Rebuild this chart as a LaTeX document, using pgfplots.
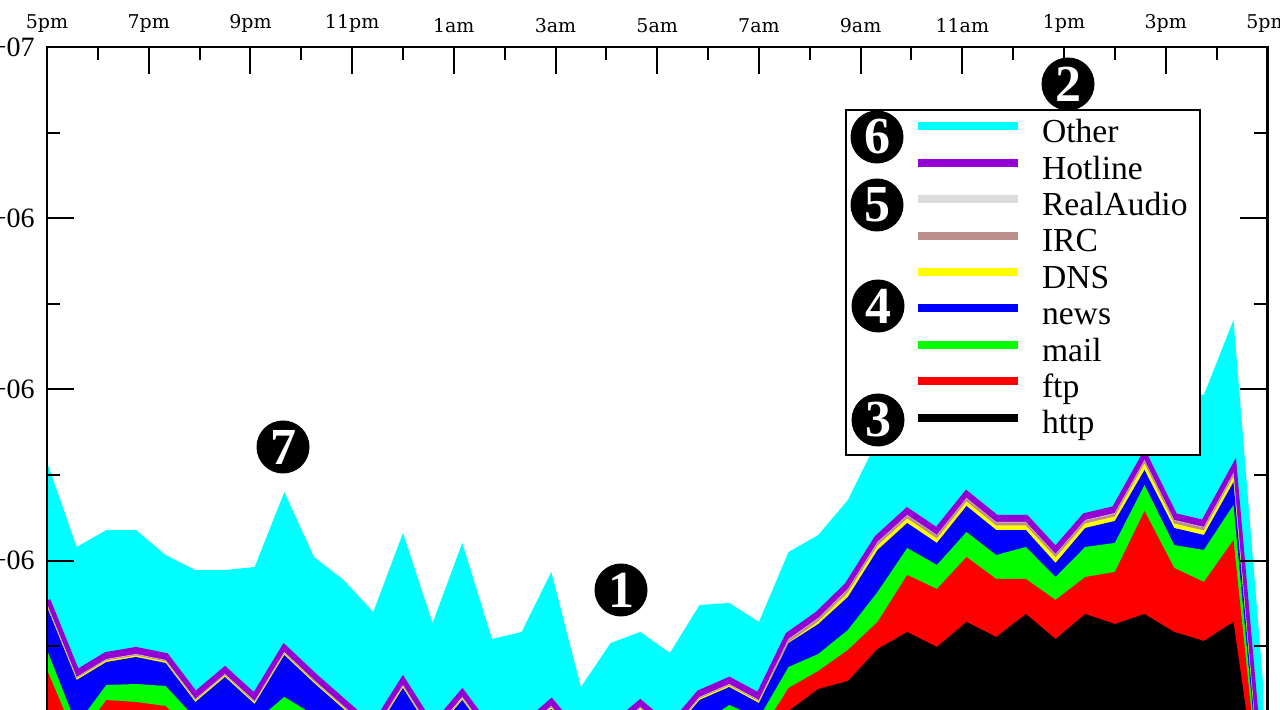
\documentclass[border=0pt]{standalone}
\usepackage{pgfplots}
\pgfplotsset{compat=1.18}
\usepackage{pgfplotstable}
\usepackage{fontspec}
\setmainfont{Liberation Serif}
\newfontfamily\tickfont{DejaVu Serif}

\definecolor{cOther}{RGB}{0,255,255}
\definecolor{cHot}{RGB}{148,0,211}
\definecolor{cRA}{RGB}{220,220,220}
\definecolor{cIRC}{RGB}{188,143,143}
\definecolor{cDNS}{RGB}{255,255,0}
\definecolor{cNews}{RGB}{0,0,255}
\definecolor{cMail}{RGB}{0,255,0}
\definecolor{cFtp}{RGB}{255,0,0}
\definecolor{cHttp}{RGB}{0,0,0}

% cumulative (stacked) traffic, in units of 1e6; t = hours after 5pm
\pgfplotstableread{
t C H RA IRC DNS news mail ftp http
0.000 5.152 3.534 3.493 3.487 3.475 3.458 2.956 2.722 1.671
0.583 4.159 2.681 2.640 2.634 2.622 2.605 2.079 1.904 1.320
1.167 4.357 2.891 2.850 2.844 2.832 2.815 2.547 2.371 1.437
1.750 4.357 2.950 2.909 2.903 2.891 2.874 2.558 2.348 1.437
2.333 4.065 2.880 2.839 2.833 2.821 2.804 2.535 2.301 1.379
2.917 3.890 2.424 2.383 2.377 2.365 2.348 2.161 1.963 1.203
3.500 3.890 2.716 2.675 2.669 2.657 2.640 2.231 2.021 1.262
4.083 3.925 2.401 2.360 2.354 2.342 2.325 2.114 1.904 1.203
4.667 4.801 2.973 2.932 2.926 2.914 2.897 2.407 2.079 1.320
5.250 4.042 2.646 2.605 2.599 2.587 2.570 2.196 1.963 1.203
5.833 3.773 2.342 2.301 2.295 2.283 2.266 2.021 1.787 1.086
6.417 3.400 2.039 1.998 1.992 1.980 1.963 1.729 1.554 0.970
7.000 4.322 2.588 2.547 2.541 2.529 2.512 2.138 1.904 1.086
7.583 3.271 2.039 1.998 1.992 1.980 1.963 1.729 1.554 0.970
8.167 4.206 2.447 2.407 2.401 2.389 2.372 2.079 1.846 1.086
8.750 3.084 1.980 1.939 1.933 1.921 1.904 1.671 1.495 0.911
9.333 3.166 2.039 1.998 1.992 1.980 1.963 1.729 1.554 0.911
9.917 3.867 2.342 2.301 2.295 2.283 2.266 2.021 1.787 1.028
10.500 2.523 1.922 1.881 1.875 1.863 1.846 1.612 1.437 0.853
11.083 3.037 2.039 1.998 1.992 1.980 1.963 1.729 1.554 0.911
11.667 3.166 2.331 2.290 2.284 2.272 2.255 2.044 1.787 1.028
12.250 2.921 2.039 1.998 1.992 1.980 1.963 1.787 1.554 0.970
12.833 3.481 2.447 2.407 2.401 2.389 2.372 2.079 1.846 1.203
13.417 3.505 2.599 2.558 2.552 2.540 2.523 2.313 2.021 1.437
14.000 3.283 2.412 2.371 2.365 2.353 2.336 2.161 1.963 1.671
14.583 4.100 3.125 3.084 3.078 3.043 3.037 2.757 2.512 2.243
15.167 4.299 3.370 3.329 3.323 3.288 3.259 2.909 2.710 2.500
15.750 4.708 3.709 3.668 3.662 3.627 3.575 3.189 2.956 2.593
16.333 5.409 4.258 4.217 4.211 4.176 4.124 3.633 3.283 2.967
16.917 5.643 4.574 4.533 4.527 4.492 4.439 4.147 3.832 3.166
17.500 5.759 4.340 4.299 4.293 4.258 4.206 3.949 3.668 2.991
18.083 5.935 4.772 4.731 4.725 4.690 4.638 4.334 4.042 3.283
18.667 5.876 4.492 4.451 4.445 4.410 4.357 4.065 3.785 3.107
19.250 5.935 4.492 4.451 4.445 4.410 4.357 4.159 3.785 3.376
19.833 5.759 4.118 4.077 4.071 4.036 3.972 3.808 3.540 3.084
20.417 5.993 4.515 4.474 4.468 4.433 4.381 4.159 3.808 3.376
21.000 6.110 4.597 4.556 4.550 4.515 4.463 4.206 3.867 3.259
21.583 6.343 5.216 5.175 5.169 5.134 5.058 4.883 4.579 3.376
22.167 5.993 4.515 4.474 4.468 4.433 4.381 4.182 3.914 3.166
22.750 5.935 4.433 4.393 4.387 4.352 4.299 4.124 3.750 3.061
23.333 6.811 5.064 5.023 5.017 4.982 4.918 4.650 4.241 3.283
23.917 2.547 1.104 1.028 1.016 1.005 0.981 0.946 0.911 0.853
}\traffic

\begin{document}
\begin{tikzpicture}
\useasboundingbox (0pt,0pt) rectangle (640pt,355pt);
\clip (0pt,0pt) rectangle (640pt,355pt);
\begin{axis}[
  at={(23.5pt,-96.5pt)}, anchor=south west,
  scale only axis, width=610.2pt, height=428pt,
  xmin=0, xmax=24, ymin=0, ymax=10,
  axis on top,
  xtick={0,2,...,24}, minor x tick num=1,
  xticklabels={5pm,7pm,9pm,11pm,1am,3am,5am,7am,9am,11am,1pm,3pm,5pm},
  xticklabel pos=upper,
  ytick={0,2,...,10}, minor y tick num=1,
  yticklabels={,,4e+06,6e+06,8e+06,1e+07},
  tick align=inside,
  major tick length=13.5pt, minor tick length=6.5pt,
  every tick/.style={black, line width=1pt},
  axis line style={line width=1.3pt},
  xticklabel style={font=\tickfont\fontsize{9.5}{10}\selectfont, yshift=3.5pt},
  yticklabel style={font=\fontsize{14}{15}\selectfont, anchor=east, inner sep=0pt, xshift=-6pt},
  legend style={at={(0.6539,0.9276)}, anchor=north west, draw=black, line width=1pt,
    fill=white, inner xsep=6pt, inner ysep=4.4pt, font=\fontsize{16.8}{19}\selectfont,
    row sep=0pt, column sep=10pt,
    nodes={inner sep=0pt, text height=12pt, text depth=6.2pt}},
  legend cell align=left,
  legend image code/.code={\draw[line width=4pt,#1] (29.5pt,5.3pt) -- (79.5pt,5.3pt); \path (0pt,0pt);},
]
\addplot[fill=cOther, draw=none, forget plot] table[x=t,y=C]{\traffic} \closedcycle;
\addplot[fill=cHot, draw=none, forget plot] table[x=t,y=H]{\traffic} \closedcycle;
\addplot[cHot, line width=3.5pt, forget plot] table[x=t,y=H]{\traffic};
\addplot[fill=cRA, draw=none, forget plot] table[x=t,y=RA]{\traffic} \closedcycle;
\addplot[fill=cIRC, draw=none, forget plot] table[x=t,y=IRC]{\traffic} \closedcycle;
\addplot[fill=cDNS, draw=none, forget plot] table[x=t,y=DNS]{\traffic} \closedcycle;
\addplot[fill=cNews, draw=none, forget plot] table[x=t,y=news]{\traffic} \closedcycle;
\addplot[fill=cMail, draw=none, forget plot] table[x=t,y=mail]{\traffic} \closedcycle;
\addplot[fill=cFtp, draw=none, forget plot] table[x=t,y=ftp]{\traffic} \closedcycle;
\addplot[fill=cHttp, draw=none, forget plot] table[x=t,y=http]{\traffic} \closedcycle;

\addlegendimage{color=cOther}\addlegendentry{Other}
\addlegendimage{color=cHot}\addlegendentry{Hotline}
\addlegendimage{color=cRA}\addlegendentry{RealAudio}
\addlegendimage{color=cIRC}\addlegendentry{IRC}
\addlegendimage{color=cDNS}\addlegendentry{DNS}
\addlegendimage{color=cNews}\addlegendentry{news}
\addlegendimage{color=cMail}\addlegendentry{mail}
\addlegendimage{color=cFtp}\addlegendentry{ftp}
\addlegendimage{color=cHttp}\addlegendentry{http}
\end{axis}
\foreach \n/\x/\y in {1/310.5/60, 2/534/313, 3/439/145, 4/439/202, 5/438.5/252.5, 6/438.5/286.5, 7/141.5/131.5}
  \node[circle, fill=black, text=white, minimum size=26.5pt, inner sep=0pt,
        font=\fontsize{26}{26}\bfseries\selectfont] at (\x pt,\y pt) {\n};
\end{tikzpicture}
\end{document}
